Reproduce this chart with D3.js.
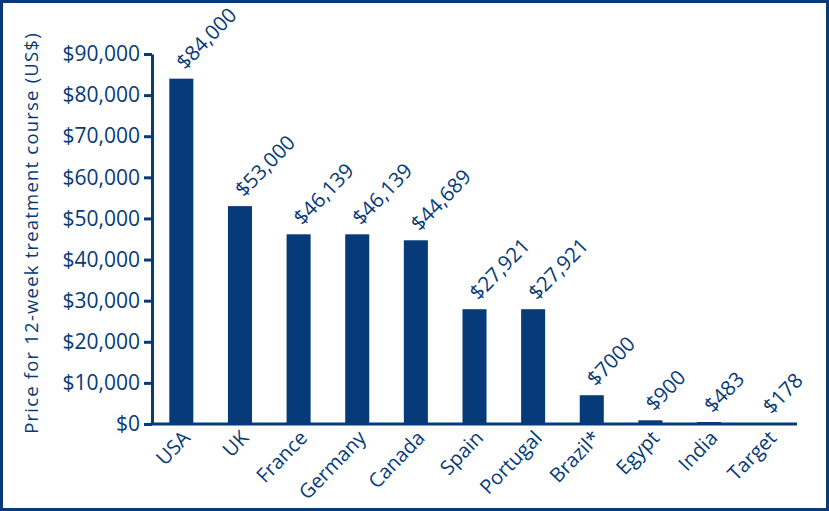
<!DOCTYPE html>
<html>
<head>
<meta charset="utf-8">
<script src="https://cdn.jsdelivr.net/npm/d3@7"></script>
<style>
  html, body { margin: 0; padding: 0; background: #fff; }
  svg { display: block; font-family: "Open Sans", sans-serif; }
</style>
</head>
<body>
<svg id="chart" width="829" height="511"></svg>
<script>
const countries = ["USA", "UK", "France", "Germany", "Canada", "Spain", "Portugal", "Brazil*", "Egypt", "India", "Target"];
const prices = [84000, 53000, 46139, 46139, 44689, 27921, 27921, 7000, 900, 483, 178];
const priceLabels = ["$84,000", "$53,000", "$46,139", "$46,139", "$44,689", "$27,921", "$27,921", "$7000", "$900", "$483", "$178"];
const yTicks = [0, 10000, 20000, 30000, 40000, 50000, 60000, 70000, 80000, 90000];
const yTitle = "Price for 12-week treatment course (US$)";

const navy = "#063a78";
const svg = d3.select("#chart");
const W = 829, H = 511;

// frame round the whole picture
svg.append("rect")
    .attr("x", 1.5).attr("y", 1.5)
    .attr("width", W - 3).attr("height", H - 3)
    .attr("fill", "#fff")
    .attr("stroke", navy).attr("stroke-width", 3);

const x = d3.scaleBand()
    .domain(countries)
    .range([152, 797])
    .paddingInner(0.59)
    .paddingOuter(0.295);

const y = d3.scaleLinear()
    .domain([0, 90000])
    .range([424, 54]);

// bars
svg.append("g").selectAll("rect")
    .data(countries)
    .join("rect")
    .attr("x", d => x(d))
    .attr("width", x.bandwidth())
    .attr("y", (d, i) => y(prices[i]))
    .attr("height", (d, i) => y(0) - y(prices[i]))
    .attr("fill", navy);

// y axis
const yAxis = svg.append("g")
    .attr("transform", "translate(152,0)")
    .call(d3.axisLeft(y).tickValues(yTicks).tickFormat(d3.format("$,")).tickSize(8).tickSizeOuter(0).tickPadding(4));
yAxis.select(".domain").attr("stroke", navy).attr("stroke-width", 3);
yAxis.selectAll(".tick line").attr("stroke", navy).attr("stroke-width", 3);
yAxis.selectAll(".tick text")
    .attr("fill", navy)
    .style("font-size", "21px")
    .style("font-family", "'Open Sans', sans-serif");

// x axis line
svg.append("line")
    .attr("x1", 150.5).attr("x2", 797)
    .attr("y1", y(0)).attr("y2", y(0))
    .attr("stroke", navy).attr("stroke-width", 3);

// category labels
svg.append("g").selectAll("text")
    .data(countries)
    .join("text")
    .attr("transform", d => `translate(${x(d) + x.bandwidth() / 2 + 10},${y(0) + 15}) rotate(-46)`)
    .attr("text-anchor", "end")
    .attr("fill", navy)
    .style("font-size", "20px")
    .text(d => d);

// value labels above bars
svg.append("g").selectAll("text")
    .data(countries)
    .join("text")
    .attr("transform", (d, i) => `translate(${x(d) + x.bandwidth() / 2 + 4},${y(prices[i]) - 8}) rotate(-46)`)
    .attr("fill", navy)
    .style("font-size", "20.5px")
    .text((d, i) => priceLabels[i]);

// y title
svg.append("text")
    .attr("transform", "translate(38,233) rotate(-90)")
    .attr("text-anchor", "middle")
    .attr("fill", navy)
    .style("font-size", "18.5px")
    .style("letter-spacing", "1.2px")
    .text(yTitle);
</script>
</body>
</html>
